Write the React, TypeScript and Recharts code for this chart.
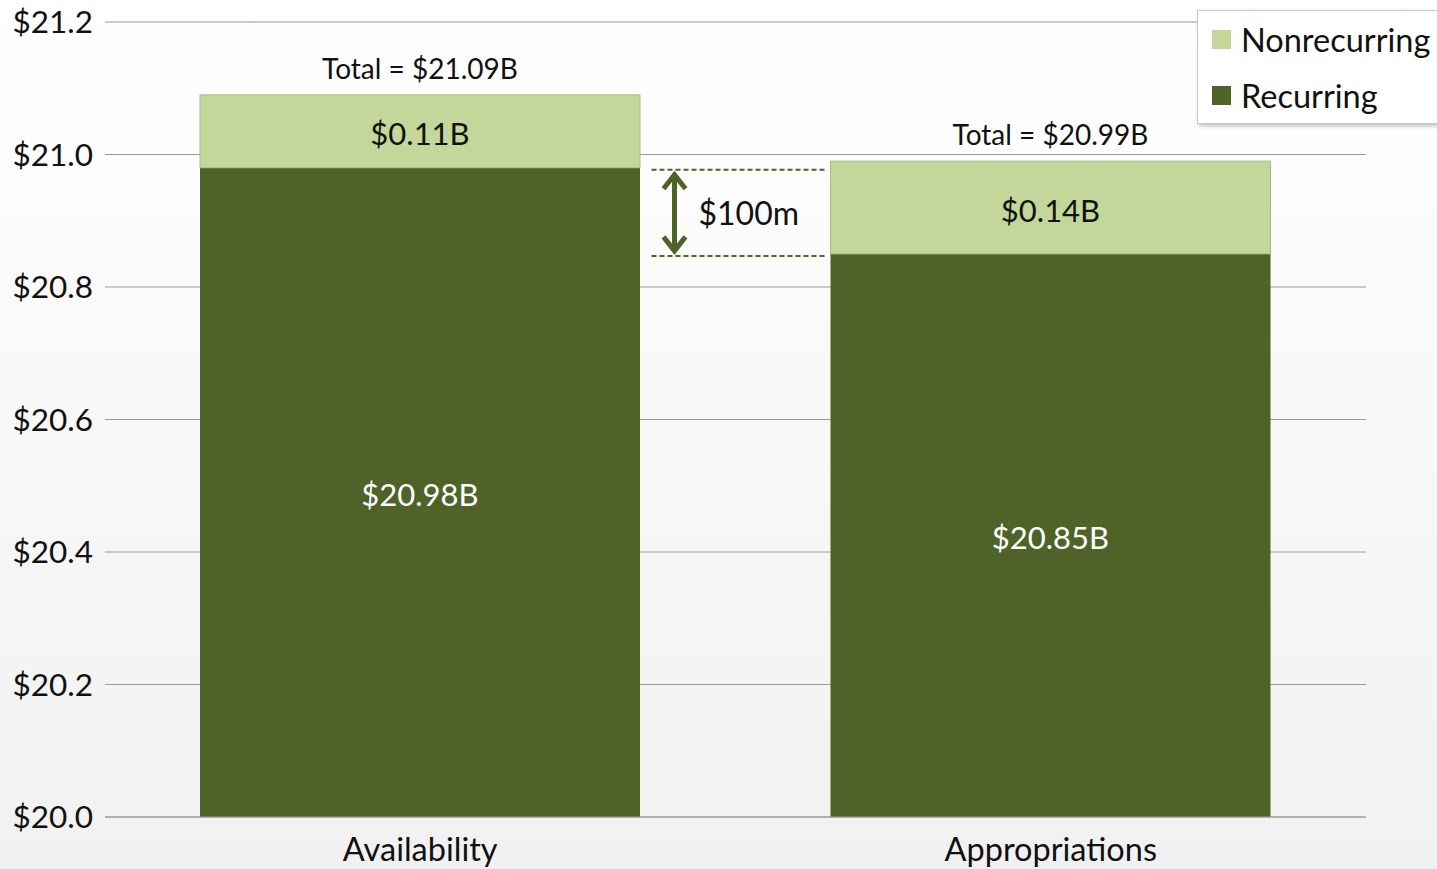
import React from "react";
import {
  BarChart,
  Bar,
  XAxis,
  YAxis,
  CartesianGrid,
  LabelList,
  Legend,
  ReferenceArea,
} from "recharts";

const categories = ["Availability", "Appropriations"];
const recurring = [20.98, 20.85];
const nonrecurring = [0.11, 0.14];
const totals = [21.09, 20.99];
const yTicks = [20.0, 20.2, 20.4, 20.6, 20.8, 21.0, 21.2];
const gapLabel = "$100m";

const data = categories.map((c, i) => ({
  name: c,
  recurring: recurring[i],
  nonrecurring: nonrecurring[i],
  total: totals[i],
}));

const W = 1437;
const H = 869;
const MARGIN = { top: 22, right: 71, left: 0, bottom: 0 };
const XAXIS_H = 52;
const PLOT_BOTTOM = H - MARGIN.bottom - XAXIS_H;

const DARK = "#4F6228";
const LIGHT = "#C4D79B";
const FONT = "Lato, 'Open Sans', sans-serif";

const fmt = (v: number) => `$${v.toFixed(2)}B`;

const RecurringLabel = (props: any) => {
  const { x, y, width, value } = props;
  const cy = (y + PLOT_BOTTOM) / 2 + 2;
  return (
    <text x={x + width / 2} y={cy} fill="#ffffff" fontSize={31} fontFamily={FONT} textAnchor="middle" dominantBaseline="central">
      {fmt(value)}
    </text>
  );
};

const NonrecurringLabel = (props: any) => {
  const { x, y, width, height, value } = props;
  return (
    <text x={x + width / 2} y={y + height / 2 + 2} fill="#111" fontSize={31} fontFamily={FONT} textAnchor="middle" dominantBaseline="central">
      {fmt(value)}
    </text>
  );
};

const TotalLabel = (props: any) => {
  const { x, y, width, value } = props;
  return (
    <text x={x + width / 2} y={y - 27} fill="#111" fontSize={28} fontFamily={FONT} textAnchor="middle" dominantBaseline="central">
      {`Total = ${fmt(value)}`}
    </text>
  );
};

const GapShape = (props: any) => {
  const { x, y, width, height } = props;
  const mid = x + width / 2;
  const x1 = mid - 84;
  const x2 = mid + 90;
  const ax = mid - 61;
  const top = y + 2;
  const bot = y + height + 2;
  return (
    <g>
      <line x1={x1} x2={x2} y1={top} y2={top} stroke={DARK} strokeWidth={2} strokeDasharray="5 3" />
      <line x1={x1} x2={x2} y1={bot} y2={bot} stroke={DARK} strokeWidth={2} strokeDasharray="5 3" />
      <line x1={ax} x2={ax} y1={top + 4} y2={bot - 4} stroke={DARK} strokeWidth={5} />
      <polyline points={`${ax - 11},${top + 19} ${ax},${top + 5} ${ax + 11},${top + 19}`} fill="none" stroke={DARK} strokeWidth={5} />
      <polyline points={`${ax - 11},${bot - 19} ${ax},${bot - 5} ${ax + 11},${bot - 19}`} fill="none" stroke={DARK} strokeWidth={5} />
      <text x={ax + 24} y={(top + bot) / 2} fontSize={32} fontFamily={FONT} fill="#111" dominantBaseline="central">
        {gapLabel}
      </text>
    </g>
  );
};

const LegendBox = () => (
  <div
    style={{
      position: "absolute",
      left: 1197,
      top: 10,
      width: 250,
      height: 112,
      background: "#fff",
      border: "1px solid #c8c8c8",
      boxShadow: "2px 2px 4px rgba(0,0,0,0.25)",
      fontFamily: FONT,
      fontSize: 32.5,
      color: "#111",
    }}
  >
    {[
      { label: "Nonrecurring", color: LIGHT, cy: 28 },
      { label: "Recurring", color: DARK, cy: 84 },
    ].map((e) => (
      <div key={e.label} style={{ position: "absolute", left: 14, top: e.cy - 20, height: 40, display: "flex", alignItems: "center" }}>
        <div style={{ width: 19, height: 19, background: e.color, marginRight: 10 }} />
        <span>{e.label}</span>
      </div>
    ))}
  </div>
);

export default function App() {
  return (
    <div
      style={{
        position: "absolute",
        left: 0,
        top: 0,
        width: W,
        height: H,
        background: "linear-gradient(#ffffff, #f1f1f1)",
        overflow: "hidden",
      }}
    >
      <BarChart width={W} height={H} data={data} margin={MARGIN}>
        <CartesianGrid vertical={false} stroke="#9a9a9a" strokeWidth={1} />
        <XAxis
          dataKey="name"
          height={XAXIS_H}
          tickLine={false}
          tickSize={0}
          tickMargin={21}
          axisLine={{ stroke: "#9a9a9a" }}
          tick={{ fill: "#111", fontSize: 32.5, fontFamily: FONT }}
        />
        <YAxis
          width={105}
          domain={[20, 21.2]}
          ticks={yTicks}
          allowDataOverflow
          axisLine={false}
          tickLine={false}
          tickSize={0}
          tickMargin={12}
          tickFormatter={(v: number) => `$${v.toFixed(1)}`}
          tick={{ fill: "#111", fontSize: 31.5, fontFamily: FONT }}
        />
        <ReferenceArea y1={recurring[1]} y2={recurring[0]} shape={<GapShape />} ifOverflow="visible" />
        <Bar dataKey="recurring" stackId="a" fill={DARK} barSize={440} isAnimationActive={false}>
          <LabelList dataKey="recurring" content={<RecurringLabel />} />
        </Bar>
        <Bar dataKey="nonrecurring" stackId="a" fill={LIGHT} stroke="#a9b98a" strokeWidth={1} barSize={440} isAnimationActive={false}>
          <LabelList dataKey="nonrecurring" content={<NonrecurringLabel />} />
          <LabelList dataKey="total" content={<TotalLabel />} />
        </Bar>
        <Legend content={() => null} />
      </BarChart>
      <LegendBox />
    </div>
  );
}
